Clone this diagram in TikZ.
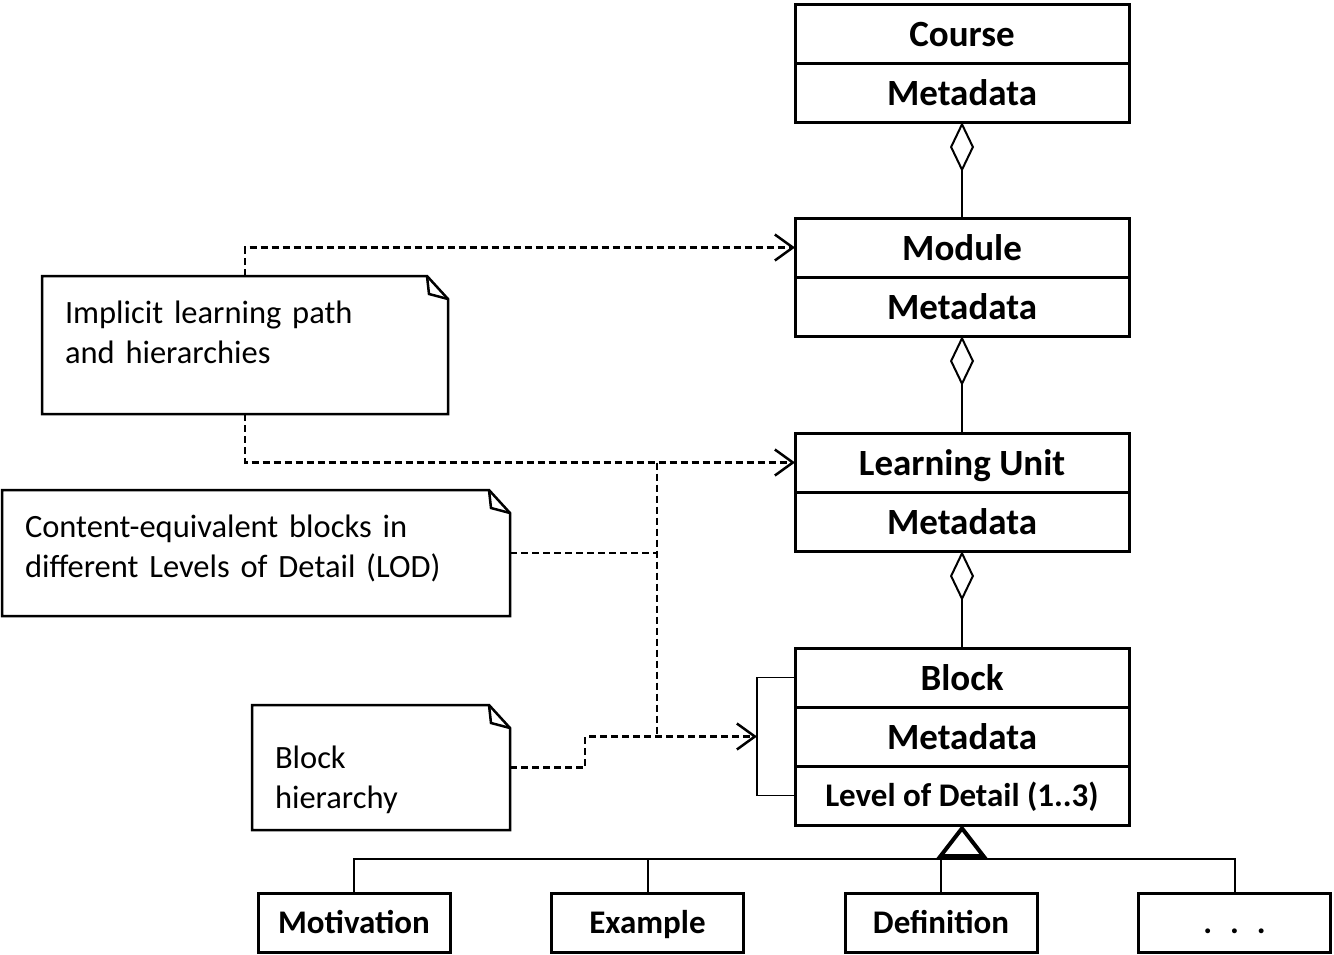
\documentclass[tikz,border=0pt]{standalone}
\usepackage{fontspec}
\setmainfont{Carlito}
\usetikzlibrary{arrows.meta,positioning,calc,shapes.geometric}
\tikzset{
  every picture/.style={line join=miter},
  cls/.style={draw, line width=3pt, outer sep=0pt, minimum width=334pt,
    minimum height=59pt, inner sep=0pt, text height=25.5pt, text depth=0pt,
    font=\bfseries\fontsize{37}{44}\selectfont},
  attr/.style={cls, text height=22.8pt, font=\bfseries\fontsize{33}{40}\selectfont},
  sub/.style={draw, line width=3pt, outer sep=0pt, minimum width=192pt,
    minimum height=59pt, inner sep=0pt, text height=22.8pt, text depth=0pt,
    font=\bfseries\fontsize{33}{40}\selectfont},
  note/.style={outer sep=0pt, inner sep=0pt},
  notetext/.style={inner sep=0pt, align=left, font=\fontsize{32.5}{40}\selectfont},
  noteline/.style={line width=2.5pt},
  aggr/.style={line width=2pt, -{Diamond[open, length=50pt, width=24pt]}},
  gen/.style={line width=2pt, -{Triangle[open, length=33pt, width=50pt, line width=4pt]}},
  tree/.style={line width=2pt},
  dep/.style={line width=2.5pt, dash pattern=on 7pt off 4pt,
    -{Straight Barb[length=18pt, width=26pt, line width=2.5pt]}},
  depline/.style={line width=2.5pt, dash pattern=on 7pt off 4pt},
  selfref/.style={line width=1.5pt}
}
% note outline with folded corner
\newcommand{\notepath}[1]{%
  \draw[noteline] (#1.north west) -- ([xshift=-21pt]#1.north east)
    -- ([yshift=-23pt]#1.north east) -- (#1.south east) -- (#1.south west) -- cycle;
  \draw[noteline] ([xshift=-21pt]#1.north east) -- ([xshift=-19pt,yshift=-18pt]#1.north east)
    -- ([yshift=-23pt]#1.north east);
}
\begin{document}
\begin{tikzpicture}[x=1pt, y=-1pt]
  \useasboundingbox (0,0) rectangle (1334,954);

  % class boxes
  \node[cls] (course) at (962,33.5) {Course};
  \node[cls, below=0pt of course] (coursemd) {Metadata};
  \node[cls, below=96pt of coursemd] (module) {Module};
  \node[cls, below=0pt of module] (modulemd) {Metadata};
  \node[cls, below=97pt of modulemd] (lu) {Learning Unit};
  \node[cls, below=0pt of lu] (lumd) {Metadata};
  \node[cls, below=97pt of lumd] (block) {Block};
  \node[cls, below=0pt of block] (blockmd) {Metadata};
  \node[attr, below=0pt of blockmd] (lod) {Level of Detail (1..3)};

  % aggregation
  \draw[aggr] (module.north) -- (coursemd.south);
  \draw[aggr] (lu.north) -- (modulemd.south);
  \draw[aggr] (block.north) -- (lumd.south);

  % block types
  \node[sub] (motiv) at (354,922.5) {Motivation};
  \node[sub, right=101.5pt of motiv] (example) {Example};
  \node[sub, right=101.5pt of example] (defin) {Definition};
  \node[sub, right=101.5pt of defin] (more) {.\hspace{18pt}.\hspace{18pt}.};

  \coordinate[below=34pt of lod.south] (gj);
  \draw[tree] (motiv.north) |- (gj) -| (more.north);
  \draw[tree] (example.north) -- (example.north |- gj);
  \draw[tree] (defin.north) -- (defin.north |- gj);
  \draw[gen] (gj) -- (lod.south);

  % block hierarchy (self reference)
  \coordinate[left=38pt of blockmd.west] (hook);
  \draw[selfref] (block.west) -| (hook) |- (lod.west);

  % notes
  \node[note, minimum width=406pt, minimum height=138pt] (note1) at (245,345) {};
  \node[notetext, text width=360pt] (note1txt) at ([yshift=13pt]note1.center)
    {Implicit learning path\\and hierarchies};
  \notepath{note1}
  \node[note, minimum width=508pt, minimum height=126pt] (note2) at (256,553) {};
  \node[notetext, text width=462pt] (note2txt) at ([yshift=5pt]note2.center)
    {Content-equivalent blocks in\\different Levels of Detail (LOD)};
  \notepath{note2}
  \node[note, minimum width=258pt, minimum height=125pt] (note3) at (381,767.5) {};
  \node[notetext, text width=212pt] (note3txt) at ([yshift=-12pt]note3.center)
    {Block\\hierarchy};
  \notepath{note3}

  % dependencies
  \draw[dep] (note1.north) |- (module.west);
  \draw[dep] (note1.south) |- (lu.west);
  \coordinate (jn) at (657,0 |- lu.west);
  \draw[depline] (jn) -- (jn |- hook);
  \draw[depline] (note2.east) -- (note2.east -| jn);
  \draw[dep] (note3.east) -- ++(75,0) |- (hook);
\end{tikzpicture}
\end{document}
